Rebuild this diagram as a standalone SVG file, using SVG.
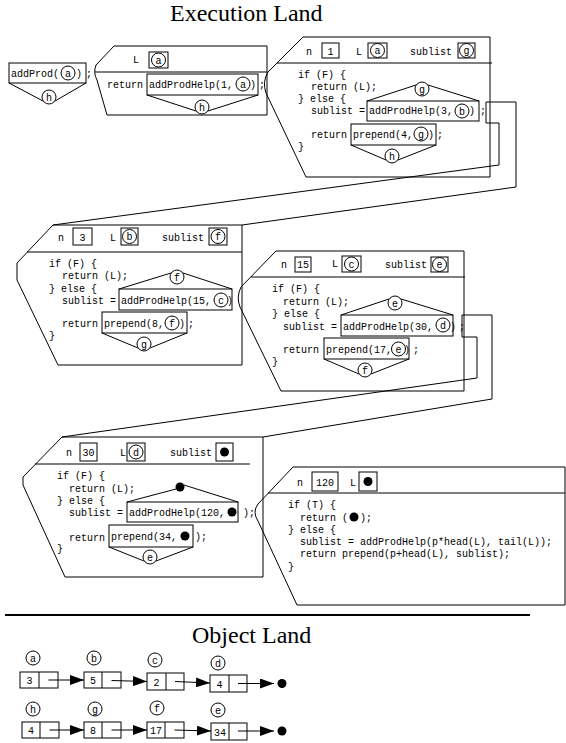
<svg xmlns="http://www.w3.org/2000/svg" width="566" height="743" viewBox="0 0 566 743">
<defs>
<style>
.fr{fill:none;stroke:#000;stroke-width:1}
.bx{fill:none;stroke:#000;stroke-width:1}
.ln{fill:none;stroke:#000;stroke-width:1}
.cv{fill:#fff;stroke:#000;stroke-width:1}
.dot{fill:#000}
.c{font-family:"Liberation Mono",monospace;font-size:10px;fill:#000}
.m{font-family:"Liberation Mono",monospace;font-size:10px;fill:#000;text-anchor:middle}
.t{font-family:"Liberation Serif",serif;font-size:24px;fill:#000}
</style>
<marker id="ah" markerUnits="userSpaceOnUse" markerWidth="14" markerHeight="10" refX="14" refY="5" orient="auto"><path d="M0,0 L14,5 L0,10 Z" fill="#000"/></marker>
</defs>
<rect width="566" height="743" fill="#fff"/>
<text class="t" x="170" y="21">Execution Land</text>

<g id="connectors">
<path class="ln" d="M486,102 H516 V187 L242,225"/>
<path class="ln" d="M486,102 V123 H499 V165 L53,225"/>
<path class="ln" d="M462,315 H492 V399 L263,437"/>
<path class="ln" d="M462,315 V337 H477 V378 L62,437"/>
</g>

<g id="frame0">
<rect class="bx" x="9" y="63" width="77" height="20"/>
<text class="c" x="11" y="77">addProd(</text>
<circle class="cv" cx="68" cy="73" r="7"/><text class="m" x="68" y="76.5">a</text>
<text class="c" x="76" y="77">)</text>
<text class="c" x="86" y="77">;</text>
<path class="ln" d="M9,83 L43,101 M86,83 L55,101"/>
<circle class="cv" cx="49" cy="97" r="7"/><text class="m" x="49" y="100.5">h</text>
</g>

<g id="frame1">
<path class="fr" d="M114,46 H267 V115 H107 L97,80 Q93,73 96,65 Z"/>
<path class="ln" d="M95,72 H267"/>
<text class="c" x="133" y="63">L</text>
<rect class="bx" x="149" y="52" width="19" height="16"/>
<circle class="cv" cx="158.5" cy="60" r="7"/><text class="m" x="158.5" y="63.5">a</text>
<text class="c" x="107" y="88">return</text>
<rect class="bx" x="147" y="74" width="111" height="21"/>
<text class="c" x="149" y="88">addProdHelp(1,</text>
<circle class="cv" cx="243" cy="84" r="7"/><text class="m" x="243" y="87.5">a</text>
<text class="c" x="250" y="88">)</text>
<text class="c" x="259" y="88">;</text>
<path class="ln" d="M147,95 L196,111 M258,95 L208,111"/>
<circle class="cv" cx="202" cy="107" r="7"/><text class="m" x="202" y="110.5">h</text>
</g>

<g id="frame2">
<path class="fr" d="M303,37 H490 V177 H306 L266,93 Q262,82 268,72 Z"/>
<path class="ln" d="M277,63 H492"/>
<text class="c" x="306" y="55">n</text>
<rect class="bx" x="322" y="43" width="17" height="15"/><text class="m" x="330.5" y="55">1</text>
<text class="c" x="356" y="55">L</text>
<rect class="bx" x="368" y="43" width="19" height="15"/>
<circle class="cv" cx="377.5" cy="50.5" r="7"/><text class="m" x="377.5" y="54">a</text>
<text class="c" x="410" y="55">sublist</text>
<rect class="bx" x="458" y="43" width="17" height="15"/>
<circle class="cv" cx="466.5" cy="50.5" r="7"/><text class="m" x="466.5" y="54">g</text>
<text class="c" x="298" y="78">if (F) {</text>
<text class="c" x="311" y="90">return (L);</text>
<text class="c" x="298" y="102">} else {</text>
<text class="c" x="311" y="114">sublist =</text>
<rect class="bx" x="367" y="101" width="112" height="20"/>
<text class="c" x="369" y="114">addProdHelp(3,</text>
<circle class="cv" cx="462" cy="111" r="7"/><text class="m" x="462" y="114.5">b</text>
<text class="c" x="469" y="114">)</text>
<text class="c" x="480" y="114">;</text>
<path class="ln" d="M367,101 L416,85 M479,101 L428,85"/>
<circle class="cv" cx="422" cy="89" r="7"/><text class="m" x="422" y="92.5">g</text>
<text class="c" x="311" y="138">return</text>
<rect class="bx" x="351" y="124" width="85" height="21"/>
<text class="c" x="353" y="138">prepend(4,</text>
<circle class="cv" cx="421" cy="134" r="7"/><text class="m" x="421" y="137.5">g</text>
<text class="c" x="428" y="138">)</text>
<text class="c" x="437" y="138">;</text>
<path class="ln" d="M351,145 L386,160 M436,145 L398,160"/>
<circle class="cv" cx="392" cy="156" r="7"/><text class="m" x="392" y="159.5">h</text>
<text class="c" x="298" y="150">}</text>
</g>

<g id="frame3">
<path class="fr" d="M53,225 H242 V365 H58 L17,280 V263 Z"/>
<path class="ln" d="M27,252 H242"/>
<text class="c" x="58" y="241">n</text>
<rect class="bx" x="73" y="228" width="19" height="17"/><text class="m" x="82.5" y="241">3</text>
<text class="c" x="110" y="241">L</text>
<rect class="bx" x="121" y="228" width="17" height="17"/>
<circle class="cv" cx="129.5" cy="236.5" r="7"/><text class="m" x="129.5" y="240">b</text>
<text class="c" x="162" y="241">sublist</text>
<rect class="bx" x="209" y="228" width="18" height="17"/>
<circle class="cv" cx="218" cy="236.5" r="7"/><text class="m" x="218" y="240">f</text>
<text class="c" x="49" y="267">if (F) {</text>
<text class="c" x="62" y="279">return (L);</text>
<text class="c" x="49" y="292">} else {</text>
<text class="c" x="62" y="304">sublist =</text>
<rect class="bx" x="119" y="289" width="113" height="21"/>
<text class="c" x="121" y="304">addProdHelp(15,</text>
<circle class="cv" cx="221" cy="300" r="7"/><text class="m" x="221" y="303.5">c</text>
<text class="c" x="227" y="304">)</text>
<path class="ln" d="M119,289 L171,273 M232,289 L183,273"/>
<circle class="cv" cx="177" cy="277" r="7"/><text class="m" x="177" y="280.5">f</text>
<text class="c" x="62" y="327">return</text>
<rect class="bx" x="102" y="312" width="85" height="21"/>
<text class="c" x="104" y="327">prepend(8,</text>
<circle class="cv" cx="172" cy="323" r="7"/><text class="m" x="172" y="326.5">f</text>
<text class="c" x="179" y="327">)</text>
<text class="c" x="188" y="327">;</text>
<path class="ln" d="M102,333 L138,348 M187,333 L150,348"/>
<circle class="cv" cx="144" cy="344" r="7"/><text class="m" x="144" y="347.5">g</text>
<text class="c" x="49" y="339">}</text>
</g>

<g id="frame4">
<path class="fr" d="M276,251 H464 V391 H281 L240,307 Q236,297 241,287 Z"/>
<path class="ln" d="M251,277 H465"/>
<text class="c" x="281" y="268">n</text>
<rect class="bx" x="295" y="257" width="16" height="15"/><text class="m" x="303" y="268">15</text>
<text class="c" x="332" y="267">L</text>
<rect class="bx" x="342" y="256" width="19" height="16"/>
<circle class="cv" cx="351.5" cy="264" r="7"/><text class="m" x="351.5" y="267.5">c</text>
<text class="c" x="385" y="268">sublist</text>
<rect class="bx" x="431" y="257" width="17" height="15"/>
<circle class="cv" cx="439.5" cy="264.5" r="7"/><text class="m" x="439.5" y="268">e</text>
<text class="c" x="272" y="292">if (F) {</text>
<text class="c" x="283" y="305">return (L);</text>
<text class="c" x="272" y="317">} else {</text>
<text class="c" x="283" y="330">sublist =</text>
<rect class="bx" x="341" y="315" width="112" height="21"/>
<text class="c" x="343" y="330">addProdHelp(30,</text>
<circle class="cv" cx="443" cy="325" r="7"/><text class="m" x="443" y="328.5">d</text>
<text class="c" x="450" y="330">)</text>
<text class="c" x="459" y="330">;</text>
<path class="ln" d="M341,315 L389,299 M453,315 L401,299"/>
<circle class="cv" cx="395" cy="303" r="7"/><text class="m" x="395" y="306.5">e</text>
<text class="c" x="283" y="353">return</text>
<rect class="bx" x="324" y="338" width="85" height="21"/>
<text class="c" x="326" y="353">prepend(17,</text>
<circle class="cv" cx="398.5" cy="349" r="7"/><text class="m" x="398.5" y="352.5">e</text>
<text class="c" x="404" y="353">)</text>
<text class="c" x="413" y="353">;</text>
<path class="ln" d="M324,359 L359,374 M409,359 L371,374"/>
<circle class="cv" cx="365" cy="370" r="7"/><text class="m" x="365" y="373.5">f</text>
<text class="c" x="272" y="365">}</text>
</g>

<g id="frame5">
<path class="fr" d="M62,437 H263 V577 H65 L23,485 V477 Z"/>
<path class="ln" d="M35,464 H250"/>
<text class="c" x="66" y="456">n</text>
<rect class="bx" x="80" y="443" width="17" height="18"/><text class="m" x="88.5" y="456">30</text>
<text class="c" x="120" y="456">L</text>
<rect class="bx" x="127" y="443" width="18" height="18"/>
<circle class="cv" cx="136" cy="452" r="7"/><text class="m" x="136" y="455.5">d</text>
<text class="c" x="170" y="456">sublist</text>
<rect class="bx" x="216" y="443" width="17" height="18"/>
<circle class="dot" cx="224.5" cy="452" r="4.5"/>
<text class="c" x="57" y="479">if (F) {</text>
<text class="c" x="69" y="492">return (L);</text>
<text class="c" x="57" y="504">} else {</text>
<text class="c" x="69" y="516">sublist =</text>
<rect class="bx" x="127" y="502" width="111" height="20"/>
<text class="c" x="129" y="516">addProdHelp(120,</text>
<circle class="dot" cx="232" cy="512" r="4.5"/>
<text class="c" x="243" y="516">);</text>
<path class="ln" d="M127,502 L176,489 M238,502 L184,485"/>
<circle class="dot" cx="180" cy="487" r="4.5"/>
<text class="c" x="69" y="541">return</text>
<rect class="bx" x="109" y="525" width="84" height="22"/>
<text class="c" x="111" y="540">prepend(34,</text>
<circle class="dot" cx="185" cy="536" r="4.5"/>
<text class="c" x="195" y="540">);</text>
<path class="ln" d="M109,547 L144,561 M193,547 L156,561"/>
<circle class="cv" cx="150" cy="557" r="7"/><text class="m" x="150" y="560.5">e</text>
<text class="c" x="57" y="552">}</text>
</g>

<g id="frame6">
<path class="fr" d="M293,467 H565 V605 H297 L258,521 Q252,512 258,504 Z"/>
<path class="ln" d="M268,493 H565"/>
<text class="c" x="297" y="486">n</text>
<rect class="bx" x="312" y="472" width="26" height="19"/><text class="m" x="325" y="486">120</text>
<text class="c" x="350" y="486">L</text>
<rect class="bx" x="359" y="472" width="18" height="19"/>
<circle class="dot" cx="368" cy="481.5" r="4.5"/>
<text class="c" x="288" y="508">if (T) {</text>
<text class="c" x="300" y="521">return (</text>
<circle class="dot" cx="354" cy="517" r="4.5"/>
<text class="c" x="360" y="521">);</text>
<text class="c" x="288" y="533">} else {</text>
<text class="c" x="300" y="545">sublist = addProdHelp(p*head(L), tail(L));</text>
<text class="c" x="300" y="557">return prepend(p+head(L), sublist);</text>
<text class="c" x="288" y="570">}</text>
</g>

<line x1="5" y1="615" x2="530" y2="615" stroke="#000" stroke-width="2"/>
<text class="t" x="192" y="643">Object Land</text>

<g id="list-arrows">
<path class="ln" d="M48.5,680 H84" marker-end="url(#ah)"/>
<path class="ln" d="M111.5,680.5 L147,681.5" marker-end="url(#ah)"/>
<path class="ln" d="M175,681.5 L210,683" marker-end="url(#ah)"/>
<path class="ln" d="M238,683.5 H274" marker-end="url(#ah)"/>
<circle class="dot" cx="282" cy="683.5" r="4.5"/>
<path class="ln" d="M49.5,730 H84" marker-end="url(#ah)"/>
<path class="ln" d="M111.5,730 H147" marker-end="url(#ah)"/>
<path class="ln" d="M174.5,730 L211,731" marker-end="url(#ah)"/>
<path class="ln" d="M238,731 H274" marker-end="url(#ah)"/>
<circle class="dot" cx="282" cy="731" r="4.5"/>
</g>

<g id="cell-a">
<circle class="cv" cx="33" cy="658" r="7"/><text class="m" x="33" y="661.5">a</text>
<rect class="bx" x="20" y="672" width="38" height="16"/><path class="ln" d="M39,672 V688"/>
<text class="m" x="29.5" y="684">3</text>
</g>
<g id="cell-b">
<circle class="cv" cx="94" cy="658" r="7"/><text class="m" x="94" y="661.5">b</text>
<rect class="bx" x="84" y="672" width="37" height="16"/><path class="ln" d="M102,672 V688"/>
<text class="m" x="93" y="684">5</text>
</g>
<g id="cell-c">
<circle class="cv" cx="155" cy="660" r="7"/><text class="m" x="155" y="663.5">c</text>
<rect class="bx" x="147" y="673" width="37" height="17"/><path class="ln" d="M166,673 V690"/>
<text class="m" x="156.5" y="685.5">2</text>
</g>
<g id="cell-d">
<circle class="cv" cx="218" cy="663" r="7"/><text class="m" x="218" y="666.5">d</text>
<rect class="bx" x="210" y="675" width="37" height="17"/><path class="ln" d="M229,675 V692"/>
<text class="m" x="219.5" y="687.5">4</text>
</g>
<g id="cell-h">
<circle class="cv" cx="33" cy="709" r="7"/><text class="m" x="33" y="712.5">h</text>
<rect class="bx" x="22" y="722" width="37" height="16"/><path class="ln" d="M40,722 V738"/>
<text class="m" x="31" y="734">4</text>
</g>
<g id="cell-g">
<circle class="cv" cx="95" cy="709" r="7"/><text class="m" x="95" y="712.5">g</text>
<rect class="bx" x="84" y="722" width="37" height="16"/><path class="ln" d="M102,722 V738"/>
<text class="m" x="93" y="734">8</text>
</g>
<g id="cell-f">
<circle class="cv" cx="157" cy="708" r="7"/><text class="m" x="157" y="711.5">f</text>
<rect class="bx" x="147" y="722" width="37" height="16"/><path class="ln" d="M165,722 V738"/>
<text class="m" x="156" y="734">17</text>
</g>
<g id="cell-e">
<circle class="cv" cx="218" cy="710" r="7"/><text class="m" x="218" y="713.5">e</text>
<rect class="bx" x="211" y="723" width="36" height="17"/><path class="ln" d="M229,723 V740"/>
<text class="m" x="220" y="735.5">34</text>
</g>
</svg>
